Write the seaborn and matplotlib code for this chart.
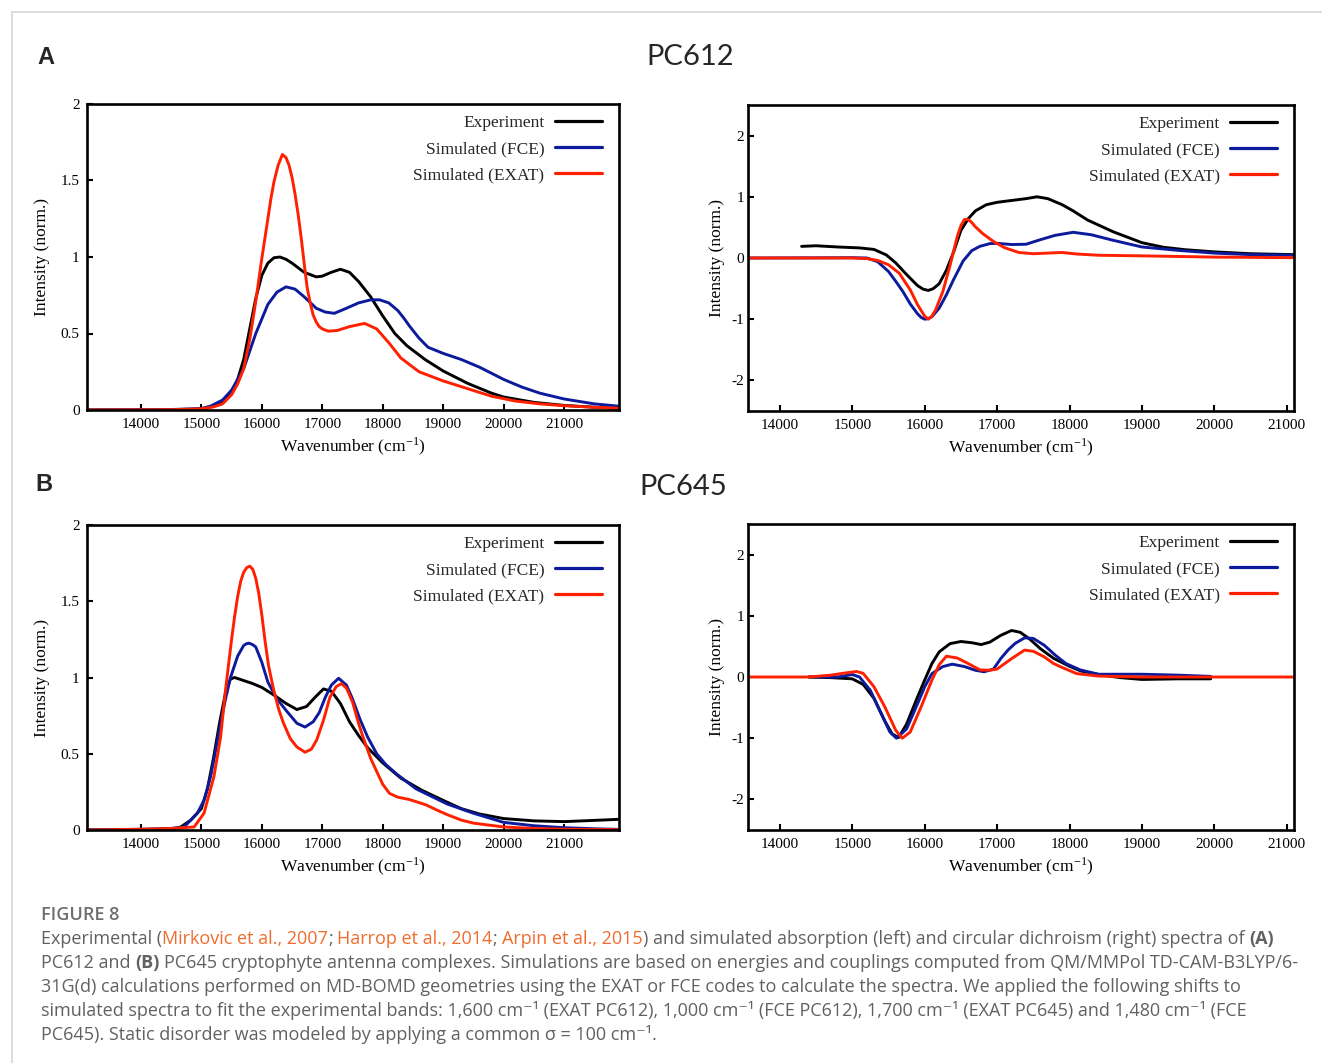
import matplotlib
matplotlib.use("Agg")
import matplotlib.pyplot as plt
import seaborn as sns
from matplotlib.lines import Line2D
from matplotlib.ticker import FuncFormatter, FixedLocator

# ---------------- data ----------------
series_labels = ["Experiment", "Simulated (FCE)", "Simulated (EXAT)"]
x_ticks = [14000, 15000, 16000, 17000, 18000, 19000, 20000, 21000]
abs_yticks = [0, 0.5, 1, 1.5, 2]
cd_yticks = [-2, -1, 0, 1, 2]

# PC612 absorption
a612_exp_x = [13100, 14500, 15000, 15200, 15400, 15500, 15600, 15700, 15800, 15900, 16000, 16100, 16200, 16300, 16400, 16500, 16700, 16900, 17000, 17150, 17300, 17450, 17600, 17800, 18000, 18200, 18400, 18700, 19000, 19400, 19800, 20000, 20500, 21000, 21500, 21900]
a612_exp_y = [0.0, 0.0, 0.005, 0.025, 0.07, 0.11, 0.2, 0.33, 0.53, 0.73, 0.88, 0.96, 0.995, 1.0, 0.985, 0.96, 0.9, 0.87, 0.875, 0.9, 0.92, 0.9, 0.84, 0.74, 0.615, 0.5, 0.42, 0.33, 0.255, 0.175, 0.11, 0.085, 0.05, 0.03, 0.018, 0.012]
a612_fce_x = [13100, 14500, 15000, 15150, 15350, 15500, 15700, 15900, 16100, 16250, 16400, 16550, 16700, 16900, 17050, 17200, 17400, 17600, 17800, 17950, 18100, 18250, 18350, 18450, 18600, 18750, 19000, 19300, 19600, 19800, 20000, 20300, 20600, 21000, 21500, 21900]
a612_fce_y = [0.0, 0.003, 0.01, 0.025, 0.065, 0.13, 0.27, 0.5, 0.69, 0.77, 0.805, 0.79, 0.74, 0.665, 0.64, 0.632, 0.665, 0.7, 0.72, 0.72, 0.7, 0.65, 0.6, 0.545, 0.47, 0.41, 0.37, 0.33, 0.28, 0.24, 0.2, 0.15, 0.11, 0.072, 0.04, 0.025]
a612_exat_x = [13100, 14500, 15000, 15200, 15350, 15500, 15600, 15700, 15800, 15900, 15950, 16000, 16050, 16100, 16150, 16200, 16270, 16340, 16400, 16450, 16500, 16550, 16600, 16650, 16700, 16750, 16800, 16850, 16900, 16950, 17000, 17100, 17250, 17450, 17700, 17900, 18100, 18300, 18600, 19000, 19400, 19800, 20200, 20600, 21000, 21500, 21900]
a612_exat_y = [0.0, 0.002, 0.008, 0.02, 0.04, 0.1, 0.17, 0.27, 0.46, 0.71, 0.85, 0.99, 1.12, 1.25, 1.38, 1.49, 1.6, 1.67, 1.65, 1.6, 1.52, 1.41, 1.28, 1.13, 0.96, 0.8, 0.7, 0.62, 0.575, 0.545, 0.53, 0.515, 0.52, 0.545, 0.566, 0.53, 0.44, 0.34, 0.25, 0.19, 0.14, 0.09, 0.058, 0.04, 0.028, 0.018, 0.012]

# PC612 circular dichroism
cd612_exp_x = [14300, 14500, 14800, 15100, 15300, 15470, 15600, 15750, 15900, 15980, 16050, 16120, 16200, 16300, 16400, 16500, 16600, 16700, 16850, 17000, 17200, 17400, 17550, 17700, 17900, 18050, 18250, 18600, 19000, 19300, 19600, 20000, 20500, 21100]
cd612_exp_y = [0.19, 0.2, 0.18, 0.165, 0.14, 0.05, -0.08, -0.27, -0.45, -0.51, -0.53, -0.5, -0.42, -0.2, 0.1, 0.45, 0.64, 0.77, 0.87, 0.91, 0.94, 0.97, 1.0, 0.97, 0.87, 0.77, 0.62, 0.43, 0.25, 0.175, 0.135, 0.1, 0.07, 0.055]
cd612_fce_x = [13560, 15000, 15200, 15350, 15500, 15600, 15700, 15800, 15900, 15950, 16000, 16050, 16100, 16200, 16300, 16400, 16530, 16650, 16760, 16900, 17000, 17200, 17400, 17600, 17800, 18050, 18300, 18600, 19000, 19500, 20000, 20500, 21100]
cd612_fce_y = [0.0, 0.005, 0.0, -0.06, -0.22, -0.38, -0.55, -0.75, -0.91, -0.97, -1.0, -0.99, -0.96, -0.82, -0.6, -0.35, -0.05, 0.12, 0.19, 0.235, 0.24, 0.22, 0.225, 0.3, 0.37, 0.42, 0.38, 0.29, 0.18, 0.125, 0.08, 0.055, 0.045]
cd612_exat_x = [13560, 15000, 15200, 15350, 15500, 15650, 15800, 15900, 16000, 16050, 16100, 16150, 16250, 16350, 16450, 16500, 16550, 16600, 16650, 16700, 16800, 16950, 17100, 17300, 17500, 17700, 17900, 18100, 18400, 19000, 20000, 21100]
cd612_exat_y = [0.0, 0.0, -0.01, -0.04, -0.11, -0.25, -0.52, -0.76, -0.95, -1.0, -0.95, -0.85, -0.55, -0.12, 0.35, 0.53, 0.63, 0.63, 0.58, 0.51, 0.4, 0.27, 0.17, 0.09, 0.07, 0.08, 0.09, 0.065, 0.045, 0.035, 0.015, 0.005]

# PC645 absorption
a645_exp_x = [13100, 14000, 14500, 14660, 14825, 15000, 15100, 15200, 15300, 15400, 15480, 15550, 15700, 15850, 16000, 16200, 16400, 16580, 16740, 16880, 17020, 17150, 17300, 17450, 17600, 17750, 18000, 18300, 18650, 19050, 19300, 19600, 20000, 20500, 21000, 21500, 21900]
a645_exp_y = [0.0, 0.003, 0.005, 0.02, 0.065, 0.14, 0.27, 0.47, 0.7, 0.9, 0.99, 1.0, 0.98, 0.96, 0.935, 0.885, 0.83, 0.79, 0.81, 0.87, 0.925, 0.91, 0.83, 0.71, 0.62, 0.54, 0.44, 0.34, 0.26, 0.185, 0.14, 0.105, 0.075, 0.06, 0.055, 0.063, 0.07]
a645_fce_x = [13100, 14000, 14500, 14715, 14934, 15050, 15153, 15250, 15318, 15400, 15482, 15600, 15700, 15750, 15790, 15850, 15900, 16000, 16100, 16250, 16400, 16580, 16715, 16850, 16950, 17050, 17150, 17270, 17400, 17500, 17620, 17750, 17900, 18050, 18220, 18550, 19070, 19500, 20000, 20500, 21000, 21500, 21900]
a645_fce_y = [0.0, 0.005, 0.01, 0.02, 0.11, 0.2, 0.35, 0.55, 0.7, 0.86, 1.0, 1.14, 1.21, 1.222, 1.225, 1.215, 1.2, 1.1, 0.97, 0.86, 0.785, 0.7, 0.675, 0.71, 0.77, 0.87, 0.95, 0.995, 0.95, 0.86, 0.73, 0.61, 0.5, 0.43, 0.37, 0.27, 0.17, 0.11, 0.05, 0.028, 0.015, 0.008, 0.004]
a645_exat_x = [13100, 14000, 14500, 14880, 15044, 15208, 15318, 15400, 15500, 15550, 15600, 15650, 15700, 15750, 15800, 15850, 15900, 15950, 16000, 16050, 16110, 16195, 16280, 16359, 16470, 16578, 16715, 16820, 16907, 17020, 17126, 17230, 17318, 17400, 17500, 17600, 17674, 17800, 17893, 18000, 18112, 18250, 18441, 18715, 18900, 19071, 19300, 19500, 20000, 20500, 21000, 21900]
a645_exat_y = [0.0, 0.005, 0.01, 0.02, 0.11, 0.35, 0.61, 0.92, 1.25, 1.4, 1.53, 1.63, 1.69, 1.72, 1.73, 1.71, 1.65, 1.55, 1.41, 1.25, 1.08, 0.92, 0.79, 0.7, 0.6, 0.545, 0.51, 0.53, 0.59, 0.72, 0.87, 0.94, 0.96, 0.93, 0.84, 0.7, 0.61, 0.47, 0.39, 0.3, 0.24, 0.215, 0.2, 0.165, 0.13, 0.1, 0.065, 0.045, 0.02, 0.01, 0.005, 0.002]

# PC645 circular dichroism
cd645_exp_x = [14400, 14700, 15000, 15150, 15300, 15450, 15550, 15640, 15750, 15900, 16000, 16100, 16200, 16350, 16500, 16650, 16780, 16900, 17050, 17200, 17320, 17450, 17600, 17780, 18000, 18150, 18450, 18700, 19000, 19500, 19950]
cd645_exp_y = [0.0, -0.01, -0.03, -0.12, -0.35, -0.72, -0.93, -0.99, -0.77, -0.33, -0.05, 0.22, 0.41, 0.545, 0.58, 0.56, 0.53, 0.57, 0.68, 0.76, 0.73, 0.62, 0.46, 0.305, 0.175, 0.1, 0.03, -0.01, -0.04, -0.03, -0.03]
cd645_fce_x = [14400, 14800, 15000, 15100, 15250, 15400, 15520, 15610, 15750, 15900, 16000, 16100, 16250, 16380, 16550, 16700, 16820, 16950, 17050, 17150, 17250, 17380, 17500, 17650, 17800, 17950, 18150, 18400, 19000, 19500, 19950]
cd645_fce_y = [0.0, 0.0, 0.04, 0.0, -0.22, -0.6, -0.9, -1.0, -0.85, -0.44, -0.16, 0.055, 0.17, 0.21, 0.17, 0.11, 0.085, 0.13, 0.3, 0.44, 0.55, 0.64, 0.63, 0.52, 0.36, 0.22, 0.115, 0.045, 0.045, 0.03, 0.01]
cd645_exat_x = [13560, 14400, 14700, 14900, 15060, 15150, 15300, 15450, 15600, 15690, 15800, 15950, 16100, 16200, 16300, 16450, 16600, 16766, 16900, 17000, 17200, 17380, 17500, 17650, 17780, 17900, 18100, 18400, 19000, 21100]
cd645_exat_y = [0.0, 0.0, 0.03, 0.065, 0.09, 0.06, -0.16, -0.49, -0.87, -1.0, -0.9, -0.49, -0.05, 0.2, 0.34, 0.31, 0.22, 0.115, 0.11, 0.13, 0.3, 0.44, 0.42, 0.33, 0.22, 0.155, 0.055, 0.015, 0.0, 0.0]

# ---------------- styling ----------------
W, H = 1322, 1063
sns.set_style("white")
plt.rcParams["font.family"] = ["Liberation Serif", "DejaVu Serif"]
plt.rcParams["mathtext.fontset"] = "stix"
plt.rcParams["axes.unicode_minus"] = False

C_EXP = "#000000"
C_FCE = "#0c1a9c"
C_EXAT = "#ff2000"
colors = [C_EXP, C_FCE, C_EXAT]
LW = 2.1

fig = plt.figure(figsize=(W / 100, H / 100), dpi=100)


def ax_at(l, t, r, b):
    return fig.add_axes([l / W, 1 - b / H, (r - l) / W, (b - t) / H])


def fmt(v, _):
    return "%g" % v


panels = [
    (ax_at(86.5, 104, 618.5, 410), (13100, 21900), (0, 2), abs_yticks,
     [(a612_exp_x, a612_exp_y), (a612_fce_x, a612_fce_y), (a612_exat_x, a612_exat_y)], -0.083, 5),
    (ax_at(748, 105, 1294, 411), (13560, 21100), (-2.5, 2.5), cd_yticks,
     [(cd612_exp_x, cd612_exp_y), (cd612_fce_x, cd612_fce_y), (cd612_exat_x, cd612_exat_y)], -0.057, 3),
    (ax_at(86.5, 525, 618.5, 830), (13100, 21900), (0, 2), abs_yticks,
     [(a645_exp_x, a645_exp_y), (a645_fce_x, a645_fce_y), (a645_exat_x, a645_exat_y)], -0.083, 5),
    (ax_at(748, 524, 1294, 830), (13560, 21100), (-2.5, 2.5), cd_yticks,
     [(cd645_exp_x, cd645_exp_y), (cd645_fce_x, cd645_fce_y), (cd645_exat_x, cd645_exat_y)], -0.057, 3),
]

for ax, xlim, ylim, yt, data, ylab_x, ypad in panels:
    for (xs, ys), c in zip(data, colors):
        sns.lineplot(x=xs, y=ys, color=c, lw=LW, ax=ax, sort=False,
                     estimator=None, legend=False,
                     solid_joinstyle="round", solid_capstyle="round")
    ax.set_xlim(*xlim)
    ax.set_ylim(*ylim)
    ax.xaxis.set_major_locator(FixedLocator(x_ticks))
    ax.yaxis.set_major_locator(FixedLocator(yt))
    ax.yaxis.set_major_formatter(FuncFormatter(fmt))
    ax.xaxis.set_major_formatter(FuncFormatter(fmt))
    ax.tick_params(axis="both", direction="in", length=4, width=1.5,
                   labelsize=11, colors="black", bottom=True, left=True,
                   top=False, right=False)
    ax.tick_params(axis="x", pad=6)
    ax.tick_params(axis="y", pad=ypad)
    for sp in ax.spines.values():
        sp.set_visible(True)
        sp.set_linewidth(1.9)
        sp.set_color("black")
    ax.set_xlabel("Wavenumber (cm$^{\\mathregular{-1}}$)", fontsize=12.5, color="black")
    ax.set_ylabel("Intensity (norm.)", fontsize=12.5, color="black")
    ax.xaxis.set_label_coords(0.5, -0.118)
    ax.xaxis.label.set_va("center")
    ax.yaxis.set_label_coords(ylab_x, 0.5)
    ax.yaxis.label.set_va("center")
    handles = [Line2D([], [], color=c, lw=2.3) for c in colors]
    bw = ax.get_position().width * W
    bh = ax.get_position().height * H
    ax.legend(handles, series_labels, loc="upper right",
              bbox_to_anchor=(1 - 17 / bw, 1 - 11 / bh),
              frameon=False, markerfirst=False, handlelength=2.7,
              handletextpad=0.6, labelspacing=0.56, borderpad=0,
              borderaxespad=0, fontsize=12.5)

# panel letters and titles
fig.text(46 / W, 1 - 57 / H, "A", ha="center", va="center", fontsize=17,
         weight="bold", family=["Liberation Sans", "DejaVu Sans"])
fig.text(44 / W, 1 - 484 / H, "B", ha="center", va="center", fontsize=17,
         weight="bold", family=["Liberation Sans", "DejaVu Sans"])
fig.text(690 / W, 1 - 57 / H, "PC612", ha="center", va="center", fontsize=21,
         family=["Lato", "DejaVu Sans"])
fig.text(683 / W, 1 - 487 / H, "PC645", ha="center", va="center", fontsize=21,
         family=["Lato", "DejaVu Sans"])

# frame lines
fig.add_artist(Line2D([12 / W, 1], [1 - 12 / H, 1 - 12 / H], color="#d6d6d6", lw=1.2,
                      transform=fig.transFigure))
fig.add_artist(Line2D([12 / W, 12 / W], [0, 1 - 12 / H], color="#d6d6d6", lw=1.2,
                      transform=fig.transFigure))

# ---------------- caption ----------------
renderer = fig.canvas.get_renderer()
CAP_FAM = ["Open Sans", "DejaVu Sans"]
GRAY = "#616161"
ORANGE = "#ef6c2e"


def text_w(s, fs, weight="normal"):
    t = fig.text(0, 0, s, fontsize=fs, weight=weight, family=CAP_FAM)
    w = t.get_window_extent(renderer).width
    t.remove()
    return w


def line_w(segs, fs):
    tot = 0.0
    for s, c, wgt in segs:
        core = s.strip(" ")
        lead = len(s) - len(s.lstrip(" "))
        trail = len(s) - len(s.rstrip(" "))
        sp = text_w("a a", fs, wgt) - text_w("aa", fs, wgt)
        tot += (lead + trail) * sp + (text_w(core, fs, wgt) if core else 0)
    return tot


def draw_line(segs, x0, ybase, fs):
    x = x0
    for s, c, wgt in segs:
        core = s.strip(" ")
        lead = len(s) - len(s.lstrip(" "))
        trail = len(s) - len(s.rstrip(" "))
        sp = text_w("a a", fs, wgt) - text_w("aa", fs, wgt)
        x += lead * sp
        if core:
            t = fig.text(x / W, 1 - ybase / H, core, fontsize=fs, weight=wgt,
                         family=CAP_FAM, color=c, ha="left", va="baseline")
            x += t.get_window_extent(renderer).width
        x += trail * sp


N = "normal"
B = "bold"
cap_lines = [
    [("Experimental (", GRAY, N), ("Mirkovic et al., 2007", ORANGE, N), ("; ", GRAY, N),
     ("Harrop et al., 2014", ORANGE, N), ("; ", GRAY, N), ("Arpin et al., 2015", ORANGE, N),
     (") and simulated absorption (left) and circular dichroism (right) spectra of ", GRAY, N),
     ("(A)", GRAY, B)],
    [("PC612 and ", GRAY, N), ("(B)", GRAY, B),
     (" PC645 cryptophyte antenna complexes. Simulations are based on energies and couplings computed from QM/MMPol TD-CAM-B3LYP/6-", GRAY, N)],
    [("31G(d) calculations performed on MD-BOMD geometries using the EXAT or FCE codes to calculate the spectra. We applied the following shifts to", GRAY, N)],
    [("simulated spectra to fit the experimental bands: 1,600 cm\u207b\u00b9 (EXAT PC612), 1,000 cm\u207b\u00b9 (FCE PC612), 1,700 cm\u207b\u00b9 (EXAT PC645) and 1,480 cm\u207b\u00b9 (FCE", GRAY, N)],
    [("PC645). Static disorder was modeled by applying a common \u03c3 = 100 cm\u207b\u00b9.", GRAY, N)],
]

fs0 = 12.0
fs_cap = fs0 * (1300 - 41) / line_w(cap_lines[1], fs0)
fs_cap = min(fs_cap, 13.0)

fig.text(41 / W, 1 - 920 / H, "FIGURE 8", fontsize=13, weight="semibold",
         family=CAP_FAM, color="#6e6e6e", ha="left", va="baseline")
for i, segs in enumerate(cap_lines):
    draw_line(segs, 41, 944 + 24 * i, fs_cap)

fig.savefig("out.png", dpi=100)
